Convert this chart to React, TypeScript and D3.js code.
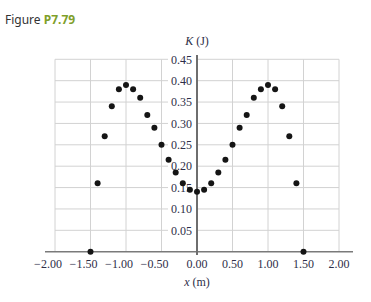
import React from "react";
import * as d3 from "d3";

const xValues = [-1.5, -1.4, -1.3, -1.2, -1.1, -1.0, -0.9, -0.8, -0.7, -0.6, -0.5, -0.4, -0.3, -0.2, -0.1, 0.0, 0.1, 0.2, 0.3, 0.4, 0.5, 0.6, 0.7, 0.8, 0.9, 1.0, 1.1, 1.2, 1.3, 1.4, 1.5];
const kValues = [0.0, 0.16, 0.27, 0.34, 0.38, 0.39, 0.38, 0.36, 0.32, 0.29, 0.25, 0.215, 0.185, 0.16, 0.145, 0.14, 0.145, 0.16, 0.185, 0.215, 0.25, 0.29, 0.32, 0.36, 0.38, 0.39, 0.38, 0.34, 0.27, 0.16, 0.0];
const xTicks = [-2, -1.5, -1, -0.5, 0, 0.5, 1, 1.5, 2];
const yTicks = [0.05, 0.1, 0.15, 0.2, 0.25, 0.3, 0.35, 0.4, 0.45];

export default function App() {
  const W = 371, H = 302;
  const x = d3.scaleLinear().domain([-2, 2]).range([55, 339]);
  const y = d3.scaleLinear().domain([0, 0.45]).range([251.7, 59.3]);
  const serif = "'Liberation Serif', 'Times New Roman', serif";
  const textColor = "#2e2e48";
  const fmt = (v: number) => Math.abs(v).toFixed(2);
  const x0 = x(0);
  return (
    <svg width={W} height={H} style={{ position: "absolute", left: 0, top: 0, background: "#fff" }}>
      <text x={5} y={24} fontFamily="'Noto Sans', sans-serif" fontSize={12} fill="#333">
        Figure <tspan fontWeight="bold" fill="#7f9f2a">P7.79</tspan>
      </text>
      {xTicks.map((t) => (
        <line key={"vx" + t} x1={x(t)} x2={x(t)} y1={y(0.45)} y2={y(0)} stroke="#d2d2d2" strokeWidth={1} />
      ))}
      {yTicks.map((t) => (
        <line key={"hy" + t} x1={x(-2)} x2={x(2)} y1={y(t)} y2={y(t)} stroke="#d2d2d2" strokeWidth={1} />
      ))}
      <line x1={45} x2={353} y1={y(0)} y2={y(0)} stroke="#7a7a7a" strokeWidth={1.6} />
      <line x1={x0} x2={x0} y1={55} y2={255} stroke="#6e6e6e" strokeWidth={2} />
      {yTicks.map((t) => (
        <g key={"yl" + t}>
          <rect x={168} y={y(t) - 5} width={x0 - 1 - 168} height={10} fill="#fff" />
          <text x={192} y={y(t) + 4.3} textAnchor="end" fontFamily={serif} fontSize={12} fill={textColor}>
            {t.toFixed(2)}
          </text>
        </g>
      ))}
      {xTicks.map((t) => (
        <text key={"xl" + t} x={x(t)} y={268} textAnchor="middle" fontFamily={serif} fontSize={12} fill={textColor}>
          {t < 0 ? (
            <>
              <tspan dx={-7}>{"\u2212"}</tspan>
              <tspan>{fmt(t)}</tspan>
            </>
          ) : (
            fmt(t)
          )}
        </text>
      ))}
      <text x={x0} y={45} textAnchor="middle" fontFamily={serif} fontSize={12} fill={textColor}>
        <tspan fontStyle="italic">K</tspan> (J)
      </text>
      <text x={x0} y={286} textAnchor="middle" fontFamily={serif} fontSize={12} fill={textColor}>
        <tspan fontStyle="italic">x</tspan> (m)
      </text>
      {xValues.map((xv, i) => (
        <circle key={"p" + i} cx={x(xv)} cy={y(kValues[i])} r={3} fill="#151515" />
      ))}
    </svg>
  );
}
